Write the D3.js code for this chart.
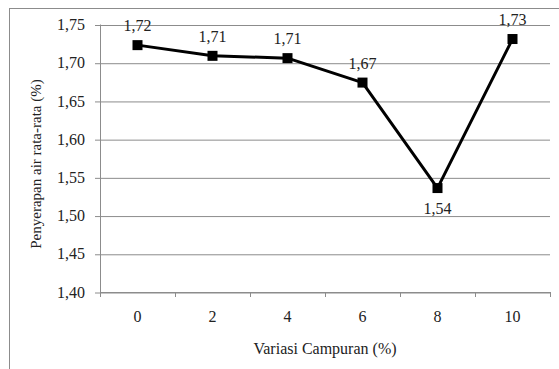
<!DOCTYPE html>
<html>
<head>
<meta charset="utf-8">
<script src="https://cdn.jsdelivr.net/npm/d3@7"></script>
<style>
  html, body { margin: 0; padding: 0; background: #fff; }
  svg { display: block; font-family: "Liberation Serif", "Times New Roman", serif; }
</style>
</head>
<body>
<svg id="chart" width="559" height="369"></svg>
<script>
// Water absorption per mixture variation
const categories = ["0", "2", "4", "6", "8", "10"];
const values = [1.723, 1.709, 1.706, 1.674, 1.536, 1.731];
const yTicks = [1.40, 1.45, 1.50, 1.55, 1.60, 1.65, 1.70, 1.75];
const labelBelow = [false, false, false, false, true, false];
const xTitle = "Variasi Campuran (%)";
const yTitle = "Penyerapan air rata-rata (%)";

const svg = d3.select("#chart");
const W = 559, H = 369;
const plot = { left: 100, right: 550, top: 24.5, bottom: 292 };
const textColor = "#222";
const axisColor = "#8c8c8c";

const comma = v => d3.format(".2f")(v).replace(".", ",");

// outer chart frame (runs past the right and bottom edges)
svg.append("rect")
  .attr("x", 9.5).attr("y", 8.5)
  .attr("width", W).attr("height", H)
  .attr("fill", "none").attr("stroke", axisColor).attr("stroke-width", 1);

const x = d3.scaleBand().domain(categories).range([plot.left, plot.right]).padding(0);
const y = d3.scaleLinear().domain([1.40, 1.75]).range([plot.bottom, plot.top]);

// horizontal gridlines with left tick marks
const yAxis = d3.axisLeft(y).tickValues(yTicks).tickFormat(comma)
  .tickSize(-(plot.right - plot.left)).tickPadding(15);
const gy = svg.append("g").attr("transform", `translate(${plot.left},0)`).call(yAxis);
gy.select(".domain").remove();
gy.selectAll(".tick line")
  .attr("x1", -5)
  .attr("stroke", axisColor).attr("stroke-width", 1)
  .attr("transform", "translate(0,0.5)");
gy.selectAll(".tick text")
  .attr("fill", textColor).style("font-size", "16px")
  .attr("font-family", "Liberation Serif, serif");

// vertical axis line
svg.append("line")
  .attr("x1", plot.left + 0.5).attr("x2", plot.left + 0.5)
  .attr("y1", plot.top).attr("y2", plot.bottom)
  .attr("stroke", axisColor);

// x axis with category boundary ticks
const boundaries = categories.map(c => x(c)).concat([plot.right]);
svg.append("line")
  .attr("x1", plot.left).attr("x2", plot.right)
  .attr("y1", plot.bottom + 0.5).attr("y2", plot.bottom + 0.5)
  .attr("stroke", axisColor);
svg.append("g").selectAll("line").data(boundaries).join("line")
  .attr("x1", d => d + 0.5).attr("x2", d => d + 0.5)
  .attr("y1", plot.bottom).attr("y2", plot.bottom + 5)
  .attr("stroke", axisColor);
svg.append("g").selectAll("text").data(categories).join("text")
  .attr("x", d => x(d) + x.bandwidth() / 2)
  .attr("y", plot.bottom + 30)
  .attr("text-anchor", "middle")
  .attr("fill", textColor).style("font-size", "16px")
  .text(d => d);

// axis titles
svg.append("text")
  .attr("x", (plot.left + plot.right) / 2).attr("y", 354)
  .attr("text-anchor", "middle").attr("fill", textColor).style("font-size", "16px")
  .text(xTitle);
svg.append("text")
  .attr("transform", `translate(41,164) rotate(-90)`)
  .attr("text-anchor", "middle").attr("fill", textColor).style("font-size", "15px")
  .text(yTitle);

// data line
const cx = i => x(categories[i]) + x.bandwidth() / 2;
const line = d3.line().x((d, i) => cx(i)).y(d => y(d));
svg.append("path").datum(values)
  .attr("d", line)
  .attr("fill", "none").attr("stroke", "#000").attr("stroke-width", 3)
  .attr("stroke-linejoin", "round");

// square markers
const ms = 10;
svg.append("g").selectAll("rect").data(values).join("rect")
  .attr("x", (d, i) => cx(i) - ms / 2)
  .attr("y", d => y(d) - ms / 2)
  .attr("width", ms).attr("height", ms)
  .attr("fill", "#000");

// value labels
svg.append("g").selectAll("text").data(values).join("text")
  .attr("x", (d, i) => cx(i))
  .attr("y", (d, i) => labelBelow[i] ? y(d) + 26 : y(d) - 14)
  .attr("text-anchor", "middle").attr("fill", textColor).style("font-size", "16px")
  .text(d => comma(d));
</script>
</body>
</html>
